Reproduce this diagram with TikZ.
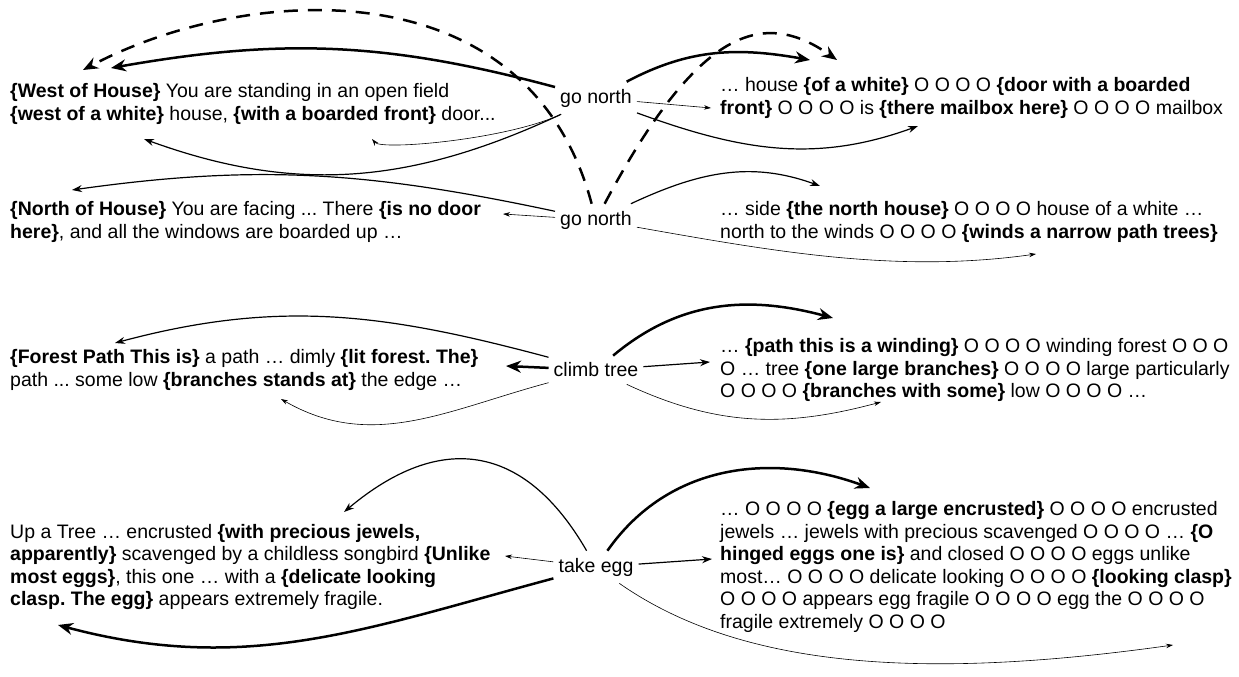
\documentclass[tikz,border=0pt]{standalone}
\usepackage{fontspec}
\setmainfont{Liberation Sans}
\usetikzlibrary{arrows.meta}

\newcommand{\keyph}[1]{\textbf{\{#1\}}}
\frenchspacing

\tikzset{
  obs/.style={anchor=west, align=left, inner sep=0pt, font=\fontsize{19.5}{22.5}\selectfont},
  act/.style={inner xsep=5pt, inner ysep=7pt, font=\fontsize{19.5}{22.5}\selectfont},
  heavy/.style={line width=2.5pt, -{Stealth[length=15pt,width=12pt]}},
  medium/.style={line width=1.2pt, -{Stealth[length=10pt,width=7pt]}},
  light/.style={line width=0.6pt, -{Stealth[length=7pt,width=4.5pt]}},
  dashedheavy/.style={heavy, dash pattern=on 14pt off 10pt},
}

\begin{document}
\begin{tikzpicture}[x=1pt,y=1pt]
  \useasboundingbox (0,0) rectangle (1239,-677);
  % the four actions in the middle
  \node[act] (gn1) at (596,-98) {go north};
  \node[act] (gn2) at (596,-220) {go north};
  \node[act] (ct) at (596,-370) {climb tree};
  \node[act] (te) at (596,-567) {take egg};
  % observations on the left
  \node[obs] (w1) at (10,-104) {\keyph{West of House} You are standing in an open field\\
    \keyph{west of a white} house, \keyph{with a boarded front} door...};
  \node[obs] (w2) at (10,-222) {\keyph{North of House} You are facing ... There \textbf{\{is no door}\\
    \textbf{here\}}, and all the windows are boarded up …};
  \node[obs] (w3) at (10,-370) {\keyph{Forest Path This is} a path … dimly \keyph{lit forest. The}\\
    path ... some low \keyph{branches stands at} the edge …};
  \node[obs] (w4) at (10,-567) {Up a Tree … encrusted \textbf{\{with precious jewels,}\\
    \textbf{apparently\}} scavenged by a childless songbird \textbf{\{Unlike}\\
    \textbf{most eggs\}}, this one … with a \textbf{\{delicate looking}\\
    \textbf{clasp. The egg\}} appears extremely fragile.};
  % observations on the right
  \node[obs] (e1) at (720,-98) {… house \keyph{of a white} O O O O \textbf{\{door with a boarded}\\
    \textbf{front\}} O O O O is \keyph{there mailbox here} O O O O mailbox};
  \node[obs] (e2) at (720,-222) {… side \keyph{the north house} O O O O house of a white …\\
    north to the winds O O O O \keyph{winds a narrow path trees}};
  \node[obs] (e3) at (720,-370) {… \keyph{path this is a winding} O O O O winding forest O O O\\
    O … tree \keyph{one large branches} O O O O large particularly\\
    O O O O \keyph{branches with some} low O O O O …};
  \node[obs] (e4) at (720,-567) {… O O O O \keyph{egg a large encrusted} O O O O encrusted\\
    jewels … jewels with precious scavenged O O O O … \textbf{\{O}\\
    \textbf{hinged eggs one is\}} and closed O O O O eggs unlike\\
    most… O O O O delicate looking O O O O \keyph{looking clasp}\\
    O O O O appears egg fragile O O O O egg the O O O O\\
    fragile extremely O O O O};
  % free ends of the arrows
  \coordinate (t1a) at (111,-68);
  \coordinate (t1b) at (83,-70);
  \coordinate (t1c) at (144,-139);
  \coordinate (t1d) at (372,-139);
  \coordinate (t1e) at (810,-60);
  \coordinate (t1f) at (837,-60);
  \coordinate (t1g) at (711,-108);
  \coordinate (t1h) at (918,-126);
  \coordinate (t2a) at (72,-190);
  \coordinate (t2b) at (503,-214);
  \coordinate (t2c) at (820,-186);
  \coordinate (t2d) at (1036,-254);
  \coordinate (t3a) at (115,-343);
  \coordinate (t3b) at (506,-366);
  \coordinate (t3c) at (281,-399);
  \coordinate (t3d) at (833,-318);
  \coordinate (t3e) at (710,-362);
  \coordinate (t3f) at (881,-402);
  \coordinate (t4a) at (344,-512);
  \coordinate (t4b) at (505,-556);
  \coordinate (t4c) at (58,-625);
  \coordinate (t4d) at (870,-488);
  \coordinate (t4e) at (712,-559);
  \coordinate (t4f) at (1173,-645);
  % edges out of the first go north
  \path (gn1) edge[heavy, out=165, in=10] (t1a)
              edge[medium, out=205, in=-20] (t1c)
              edge[light, out=205, in=-50, out distance=60pt, in distance=15pt] (t1d)
              edge[heavy, out=28, in=170] (t1e)
              edge[light] (t1g)
              edge[medium, out=-20, in=200] (t1h);
  % edges out of the second go north (dashed ones go back up)
  \path (gn2) edge[dashedheavy, out=105, in=28, out distance=250pt, in distance=180pt] (t1b)
              edge[dashedheavy, out=62, in=145, out distance=200pt, in distance=90pt] (t1f)
              edge[medium, out=168, in=8] (t2a)
              edge[light] (t2b)
              edge[medium, out=25, in=160] (t2c)
              edge[light, out=-10, in=188, looseness=0.9] (t2d);
  % climb tree
  \path (ct) edge[medium, out=165, in=15] (t3a)
             edge[heavy] (t3b)
             edge[light, out=195, in=-30] (t3c)
             edge[heavy, out=40, in=165] (t3d)
             edge[medium] (t3e)
             edge[light, out=-25, in=195] (t3f);
  % take egg
  \path (te) edge[medium, out=120, in=40, looseness=1.3] (t4a)
             edge[light] (t4b)
             edge[heavy, out=195, in=-15] (t4c)
             edge[heavy, out=55, in=160] (t4d)
             edge[medium] (t4e)
             edge[light, out=-35, in=188, out distance=150pt, in distance=250pt] (t4f);
\end{tikzpicture}
\end{document}
